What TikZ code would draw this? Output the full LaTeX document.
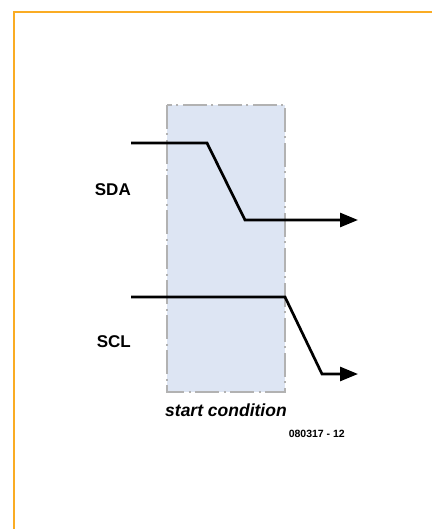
\documentclass[tikz,border=0pt]{standalone}
\usepackage{fontspec}
\setmainfont{Liberation Sans}
\usetikzlibrary{arrows.meta}
\definecolor{frameorange}{RGB}{250,172,36}
\definecolor{windowfill}{RGB}{221,229,243}
\definecolor{windowedge}{RGB}{178,178,178}
\tikzset{
  frame/.style={draw=frameorange,line width=1.6bp},
  window/.style={fill=windowfill,draw=windowedge,line width=2.2bp,
    dash pattern=on 24bp off 4.5bp on 2bp off 4.5bp},
  signal/.style={line width=2.7bp,line join=miter},
  sigarrow/.style={-{Triangle[length=18bp,width=14bp]}},
  siglabel/.style={font=\bfseries\fontsize{17bp}{19bp}\selectfont,anchor=east,inner sep=0pt},
  caption/.style={font=\bfseries\itshape\fontsize{17.5bp}{19bp}\selectfont,inner sep=0pt},
  figno/.style={font=\bfseries\fontsize{10.5bp}{12bp}\selectfont,inner sep=0pt}
}
\begin{document}
\begin{tikzpicture}[x=1bp,y=-1bp]
  \useasboundingbox (0,0) rectangle (432,529);
  % orange frame along the top and left edges
  \coordinate (ftr) at (432,12);
  \coordinate (ftl) at (14,12);
  \coordinate (fbl) at (14,529);
  \draw[frame] (ftr) -- (ftl) -- (fbl);

  % shaded window of the start condition
  \draw[window] (167,105) rectangle (285,392);

  % SDA: high, falls inside the window
  \coordinate (sda0) at (131,143);
  \coordinate (sda1) at (207,143);
  \coordinate (sda2) at (245,220);
  \coordinate (sda3) at (358,220);
  \draw[signal,sigarrow] (sda0) -- (sda1) -- (sda2) -- (sda3);

  % SCL: high, falls at the window's right edge
  \coordinate (scl0) at (131,297);
  \coordinate (scl1) at (285,297);
  \coordinate (scl2) at (322,374);
  \coordinate (scl3) at (358,374);
  \draw[signal,sigarrow] (scl0) -- (scl1) -- (scl2) -- (scl3);

  % labels
  \node[siglabel] (sdalabel) at (131,190) {SDA};
  \node[siglabel] (scllabel) at (131,342) {SCL};
  \node[caption,anchor=west] (cond) at (165,410) {start condition};
  \node[figno,anchor=east] (fig) at (345,434) {080317 - 12};
\end{tikzpicture}
\end{document}
